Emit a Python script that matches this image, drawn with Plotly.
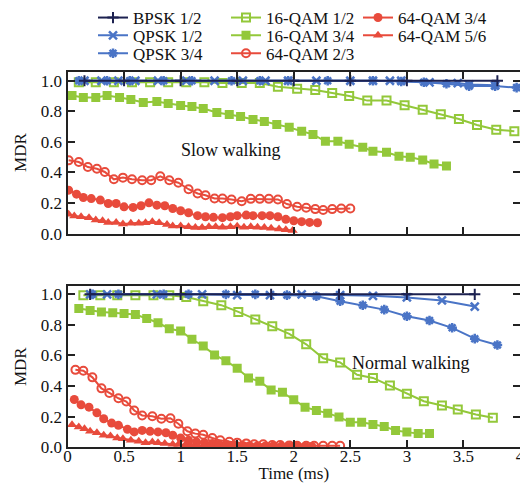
import plotly.graph_objects as go

# ---------------- data ----------------
series_names = ["BPSK 1/2", "QPSK 1/2", "QPSK 3/4", "16-QAM 1/2", "16-QAM 3/4",
                "64-QAM 2/3", "64-QAM 3/4", "64-QAM 5/6"]

# Slow walking (top panel)
slow_bpsk_t = [0.15, 0.5, 1.0, 1.5, 2.0, 2.5, 3.0, 3.8]
slow_bpsk_v = [1.0, 1.0, 1.0, 1.0, 1.0, 1.0, 1.0, 1.0]
slow_qpsk12_t = [0.15, 0.3, 0.45, 0.6, 0.8, 1.05, 1.3, 1.55, 1.75, 1.95, 2.2, 2.5, 2.7, 2.85, 2.95, 3.2, 3.45, 3.55, 3.78]
slow_qpsk12_v = [1.0, 1.0, 1.0, 1.0, 1.0, 1.0, 1.0, 1.0, 1.0, 1.0, 1.0, 1.0, 1.0, 1.0, 1.0, 0.99, 0.985, 0.975, 0.97]
slow_qpsk34_t = [0.1, 0.35, 0.55, 0.85, 1.1, 1.45, 1.7, 1.95, 2.3, 2.7, 2.95, 3.15, 3.35, 3.55, 3.78, 3.97]
slow_qpsk34_v = [1.0, 1.0, 1.0, 1.0, 1.0, 1.0, 1.0, 1.0, 1.0, 1.0, 0.995, 0.99, 0.98, 0.965, 0.965, 0.955]
slow_16q12_t = [0.10, 0.25, 0.41, 0.57, 0.73, 0.89, 1.05, 1.21, 1.37, 1.54, 1.70, 1.86, 2.03,
                2.19, 2.34, 2.49, 2.65, 2.82, 2.98, 3.14, 3.30, 3.46, 3.62, 3.79, 3.95]
slow_16q12_v = [0.99, 0.99, 0.99, 0.99, 0.99, 0.99, 0.99, 0.99, 0.985, 0.985, 0.985, 0.96, 0.948,
                0.94, 0.92, 0.90, 0.87, 0.87, 0.84, 0.81, 0.78, 0.75, 0.71, 0.68, 0.67]
slow_16q34_t = [0.04, 0.14, 0.25, 0.35, 0.46, 0.56, 0.67, 0.79, 0.89, 1.0, 1.1, 1.2, 1.32, 1.43, 1.53, 1.64,
                1.74, 1.85, 1.96, 2.07, 2.17, 2.28, 2.39, 2.49, 2.61, 2.7, 2.82, 2.93, 3.03, 3.14, 3.24, 3.35]
slow_16q34_v = [0.903, 0.89, 0.89, 0.903, 0.89, 0.877, 0.857, 0.864, 0.851, 0.838, 0.831, 0.818, 0.792, 0.779,
                0.766, 0.747, 0.734, 0.714, 0.695, 0.669, 0.649, 0.604, 0.604, 0.584, 0.565, 0.539, 0.532,
                0.506, 0.5, 0.481, 0.455, 0.442]
slow_64q23_t = [0.01, 0.10, 0.18, 0.26, 0.33, 0.41, 0.49, 0.57, 0.66, 0.74, 0.82, 0.90, 0.98, 1.07, 1.15, 1.22,
                1.30, 1.37, 1.45, 1.54, 1.62, 1.70, 1.78, 1.86, 1.94, 2.03, 2.11, 2.19, 2.26, 2.34, 2.42, 2.50]
slow_64q23_v = [0.479, 0.468, 0.435, 0.424, 0.403, 0.355, 0.366, 0.355, 0.349, 0.349, 0.375, 0.349, 0.333,
                0.29, 0.262, 0.251, 0.229, 0.229, 0.223, 0.212, 0.227, 0.227, 0.227, 0.223, 0.193, 0.175,
                0.169, 0.16, 0.154, 0.16, 0.164, 0.164]
slow_64q34_t = [0.01, 0.08, 0.14, 0.21, 0.29, 0.36, 0.43, 0.50, 0.58, 0.65, 0.72, 0.79, 0.86, 0.93, 1.0, 1.07,
                1.15, 1.22, 1.29, 1.37, 1.44, 1.50, 1.58, 1.64, 1.72, 1.79, 1.86, 1.93, 2.0, 2.07, 2.14, 2.21]
slow_64q34_v = [0.284, 0.258, 0.236, 0.229, 0.219, 0.197, 0.197, 0.175, 0.171, 0.182, 0.201, 0.186, 0.182,
                0.164, 0.149, 0.136, 0.117, 0.11, 0.106, 0.104, 0.11, 0.117, 0.121, 0.117, 0.117, 0.117,
                0.11, 0.093, 0.084, 0.078, 0.073, 0.071]
slow_64q56_t = [0.01, 0.06, 0.12, 0.19, 0.25, 0.31, 0.36, 0.43, 0.49, 0.56, 0.63, 0.69, 0.75, 0.81, 0.88, 0.93,
                1.0, 1.07, 1.13, 1.19, 1.25, 1.31, 1.37, 1.44, 1.50, 1.56, 1.62, 1.68, 1.74, 1.80, 1.87, 1.93, 1.99]
slow_64q56_v = [0.126, 0.115, 0.11, 0.104, 0.089, 0.084, 0.073, 0.073, 0.063, 0.067, 0.067, 0.071, 0.078,
                0.071, 0.06, 0.05, 0.05, 0.045, 0.039, 0.039, 0.045, 0.045, 0.042, 0.045, 0.048, 0.042,
                0.045, 0.042, 0.04, 0.035, 0.03, 0.025, 0.02]

# Normal walking (bottom panel)
norm_bpsk_t = [0.2, 1.0, 1.8, 2.4, 3.0, 3.6]
norm_bpsk_v = [1.0, 1.0, 1.0, 1.0, 1.0, 1.0]
norm_qpsk12_t = [0.2, 0.35, 0.79, 1.19, 1.5, 1.79, 2.07, 2.41, 2.7, 3.0, 3.31, 3.6]
norm_qpsk12_v = [1.0, 1.0, 1.0, 1.0, 0.995, 0.995, 1.0, 0.995, 0.99, 0.98, 0.96, 0.92]
norm_qpsk34_t = [0.22, 0.45, 0.85, 1.07, 1.4, 1.66, 1.94, 2.2, 2.41, 2.61, 2.8, 3.0, 3.2, 3.4, 3.6, 3.8]
norm_qpsk34_v = [1.0, 1.0, 1.0, 1.0, 1.0, 1.0, 0.995, 0.987, 0.955, 0.929, 0.90, 0.857, 0.829, 0.781, 0.71, 0.669]
norm_16q12_t = [0.14, 0.29, 0.44, 0.60, 0.76, 0.90, 1.05, 1.20, 1.36, 1.51, 1.66, 1.81, 1.96, 2.11, 2.26,
                2.41, 2.56, 2.70, 2.85, 3.0, 3.15, 3.31, 3.45, 3.61, 3.76]
norm_16q12_v = [0.994, 0.994, 0.994, 0.994, 0.994, 0.994, 0.983, 0.955, 0.929, 0.885, 0.836, 0.792, 0.742,
                0.673, 0.582, 0.554, 0.474, 0.453, 0.403, 0.349, 0.301, 0.273, 0.247, 0.214, 0.193]
norm_16q34_t = [0.1, 0.2, 0.3, 0.4, 0.5, 0.6, 0.7, 0.8, 0.9, 1.0, 1.1, 1.2, 1.3, 1.4, 1.5, 1.6,
                1.7, 1.8, 1.9, 2.0, 2.1, 2.2, 2.3, 2.4, 2.5, 2.6, 2.7, 2.8, 2.9, 3.0, 3.1, 3.2]
norm_16q34_v = [0.907, 0.894, 0.885, 0.879, 0.875, 0.868, 0.842, 0.814, 0.775, 0.76, 0.706, 0.662, 0.604,
                0.565, 0.517, 0.453, 0.431, 0.375, 0.359, 0.31, 0.262, 0.24, 0.223, 0.197, 0.164, 0.164,
                0.149, 0.136, 0.11, 0.099, 0.089, 0.089]
norm_64q23_t = [0.07, 0.14, 0.22, 0.30, 0.37, 0.45, 0.52, 0.59, 0.66, 0.75, 0.83, 0.91, 0.98, 1.06, 1.13, 1.20,
                1.28, 1.35, 1.43, 1.50, 1.58, 1.65, 1.73, 1.81, 1.88, 1.96, 2.03, 2.11, 2.18, 2.26, 2.34, 2.41]
norm_64q23_v = [0.506, 0.5, 0.457, 0.385, 0.355, 0.32, 0.299, 0.24, 0.208, 0.203, 0.186, 0.19, 0.154, 0.104,
                0.089, 0.082, 0.06, 0.045, 0.035, 0.03, 0.025, 0.02, 0.02, 0.015, 0.015, 0.012, 0.01, 0.01,
                0.01, 0.01, 0.01, 0.01]
norm_64q34_t = [0.06, 0.12, 0.19, 0.26, 0.32, 0.39, 0.45, 0.53, 0.59, 0.66, 0.73, 0.80, 0.87, 0.93, 1.0, 1.07,
                1.14, 1.21, 1.28, 1.34, 1.41, 1.48, 1.55, 1.61, 1.68, 1.75, 1.82, 1.89, 1.96, 2.03, 2.10, 2.16]
norm_64q34_v = [0.312, 0.277, 0.262, 0.225, 0.186, 0.158, 0.143, 0.117, 0.1, 0.11, 0.104, 0.1, 0.095, 0.078,
                0.06, 0.045, 0.035, 0.03, 0.025, 0.02, 0.018, 0.015, 0.012, 0.01, 0.01, 0.008, 0.008, 0.006,
                0.005, 0.005, 0.005, 0.005]
norm_64q56_t = [0.04, 0.10, 0.15, 0.20, 0.26, 0.32, 0.38, 0.44, 0.49, 0.56, 0.63, 0.69, 0.75, 0.80, 0.86, 0.93,
                0.98, 1.04, 1.09, 1.15, 1.21, 1.27, 1.33, 1.38, 1.44, 1.50, 1.56, 1.61, 1.67, 1.74, 1.79, 1.85]
norm_64q56_v = [0.147, 0.132, 0.121, 0.104, 0.095, 0.078, 0.073, 0.06, 0.056, 0.045, 0.039, 0.03, 0.034, 0.03,
                0.024, 0.02, 0.018, 0.015, 0.012, 0.01, 0.008, 0.006, 0.005, 0.004, 0.003, 0.003, 0.002,
                0.002, 0.001, 0.001, 0.0, 0.0]

x_ticks = [0, 0.5, 1, 1.5, 2, 2.5, 3, 3.5, 4]
x_tick_labels = ["0", "0.5", "1", "1.5", "2", "2.5", "3", "3.5", "4"]
y_ticks = [0.0, 0.2, 0.4, 0.6, 0.8, 1.0]
y_tick_labels = ["0.0", "0.2", "0.4", "0.6", "0.8", "1.0"]

# ---------------- styles ----------------
NAVY = "#1c2150"
BLUE = "#4a74c6"
GREEN = "#93c83a"
RED = "#e84b3c"
FONT = "Liberation Serif"

styles = [
    dict(color=NAVY, symbol="cross-thin-open", size=8, lw=2),
    dict(color=BLUE, symbol="x-thin-open", size=8, lw=2.5),
    dict(color=BLUE, symbol="asterisk-open", size=8, lw=2.5),
    dict(color=GREEN, symbol="square-open", size=8, lw=2),
    dict(color=GREEN, symbol="square", size=9, lw=0),
    dict(color=RED, symbol="circle-open", size=8, lw=2),
    dict(color=RED, symbol="circle", size=9, lw=0),
    dict(color=RED, symbol="triangle-up", size=9, lw=0),
]

slow = [(slow_bpsk_t, slow_bpsk_v), (slow_qpsk12_t, slow_qpsk12_v), (slow_qpsk34_t, slow_qpsk34_v),
        (slow_16q12_t, slow_16q12_v), (slow_16q34_t, slow_16q34_v), (slow_64q23_t, slow_64q23_v),
        (slow_64q34_t, slow_64q34_v), (slow_64q56_t, slow_64q56_v)]
normal = [(norm_bpsk_t, norm_bpsk_v), (norm_qpsk12_t, norm_qpsk12_v), (norm_qpsk34_t, norm_qpsk34_v),
          (norm_16q12_t, norm_16q12_v), (norm_16q34_t, norm_16q34_v), (norm_64q23_t, norm_64q23_v),
          (norm_64q34_t, norm_64q34_v), (norm_64q56_t, norm_64q56_v)]

# draw order: greens first, then reds, then blues/black on top
draw_order = [3, 4, 5, 6, 7, 2, 1, 0]

fig = go.Figure()
legend_ids = ["legend", "legend2", "legend3", "legend4", "legend5", "legend6", "legend7", "legend8"]

for i in draw_order:
    st = styles[i]
    for panel, (xa, ya) in ((slow, ("x", "y")), (normal, ("x2", "y2"))):
        t, v = panel[i]
        fig.add_trace(go.Scatter(
            x=t, y=v, mode="lines+markers", name=series_names[i],
            xaxis=xa, yaxis=ya,
            line=dict(color=st["color"], width=2),
            marker=dict(symbol=st["symbol"], size=st["size"], color=st["color"],
                        line=dict(color=st["color"], width=st["lw"])),
            showlegend=(xa == "x"), legend=legend_ids[i], cliponaxis=True,
        ))

W, H = 520, 483
x0 = 67.5 / W

axis_common = dict(showline=True, linecolor="#222222", linewidth=2, mirror="allticks",
                   ticks="inside", ticklen=7, tickwidth=1.5, tickcolor="#222222",
                   showgrid=False, zeroline=False, ticklabeloverflow="allow",
                   tickfont=dict(family=FONT, size=17, color="#111111"))

layout = dict(
    width=W, height=H,
    margin=dict(l=0, r=0, t=0, b=0),
    paper_bgcolor="white", plot_bgcolor="white",
    font=dict(family=FONT, size=17, color="#111111"),
    xaxis=dict(domain=[x0, 1.0], range=[0, 4], tickvals=x_ticks, ticktext=x_tick_labels,
               showticklabels=False, anchor="y", automargin=False, **axis_common),
    yaxis=dict(domain=[1 - 232 / H, 1 - 69 / H], range=[0, 1.06], tickvals=y_ticks,
               ticktext=y_tick_labels, anchor="x", automargin=False,
               title=dict(text="MDR", font=dict(family=FONT, size=17), standoff=10), **axis_common),
    xaxis2=dict(domain=[x0, 1.0], range=[0, 4], tickvals=x_ticks, ticktext=x_tick_labels,
                anchor="y2", automargin=False, ticklabelstandoff=-8,
                title=dict(text="Time (ms)", font=dict(family=FONT, size=17), standoff=17), **axis_common),
    yaxis2=dict(domain=[1 - 447 / H, 1 - 285 / H], range=[0, 1.053], tickvals=y_ticks,
                ticktext=y_tick_labels, anchor="x2", automargin=False,
                title=dict(text="MDR", font=dict(family=FONT, size=17), standoff=10), **axis_common),
    annotations=[
        dict(text="Slow walking", xref="paper", yref="paper", x=231 / W, y=1 - 148 / H,
             xanchor="center", yanchor="middle",
             showarrow=False, font=dict(family=FONT, size=18, color="#111111")),
        dict(text="Normal walking", xref="paper", yref="paper", x=410 / W, y=1 - 362 / H,
             xanchor="center", yanchor="middle",
             showarrow=False, font=dict(family=FONT, size=18, color="#111111")),
    ],
)

# one small legend per entry, arranged in three columns
col_x = [93, 93, 93, 226, 226, 226, 358, 358]
row_y = [15, 33, 51, 15, 33, 51, 15, 33]
for i, lid in enumerate(legend_ids):
    layout[lid] = dict(x=col_x[i] / W, y=1 - row_y[i] / H, xanchor="left", yanchor="middle",
                       bgcolor="rgba(0,0,0,0)", borderwidth=0, itemwidth=30,
                       font=dict(family=FONT, size=17, color="#111111"))

fig.update_layout(**layout)
fig.write_html("out.html")
